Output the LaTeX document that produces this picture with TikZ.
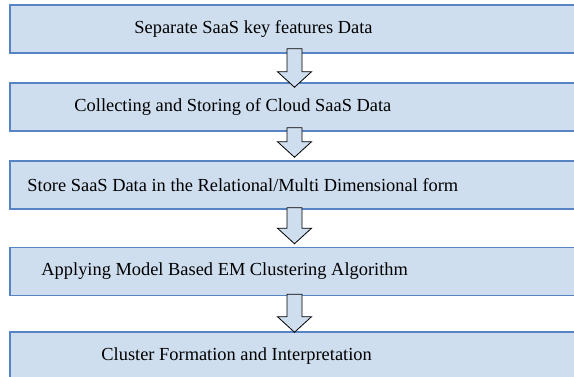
\documentclass[tikz,border=0pt]{standalone}
\usepackage{fontspec}
\setmainfont{Liberation Serif}
\usetikzlibrary{calc,positioning}
\definecolor{boxfill}{RGB}{206,222,239}
\definecolor{boxline}{RGB}{86,132,196}
\tikzset{
	stage/.style={draw=boxline, fill=boxfill, line width=1.5pt, minimum width=569pt, minimum height=48pt, inner sep=0pt},
	stagetext/.style={inner sep=0pt, font=\fontsize{18.4}{22}\selectfont},
	blockarrow/.style={draw=black, fill=boxfill, line width=0.8pt, line join=miter}
}
% hollow down arrow from (#1) to its tip at (#2)
\def\downblock(#1)(#2){\draw[blockarrow] ($(#1)+(-7.5,0)$) -- ($(#2)+(-7.5,15.5)$) -- ($(#2)+(-17,15.5)$) -- (#2) -- ($(#2)+(17,15.5)$) -- ($(#2)+(7.5,15.5)$) -- ($(#1)+(7.5,0)$) -- cycle;}

\begin{document}
\begin{tikzpicture}[x=1pt, y=1pt]
	%%%%% START %%%%%
	\useasboundingbox (0,0) rectangle (574,377);
	\clip (0,0) rectangle (574,377);
	
	\node[stage] (b1) at (294.5, 348) {};
	\node[stage] (b2) at (294.5, 270) {};
	\node[stage] (b3) at (294.5, 192) {};
	\node[stage] (b4) at (294.5, 105.5) {};
	\node[stage] (b5) at (294.5, 21) {};
	
	\node[stagetext, right=125pt of b1.west] (t1) {Separate SaaS key features Data};
	\node[stagetext, right=65pt of b2.west] (t2) {Collecting and Storing of Cloud SaaS Data};
	\node[stagetext, right=18pt of b3.west] (t3) {Store SaaS Data in the Relational/Multi Dimensional form};
	\node[stagetext, right=32pt of b4.west] (t4) {Applying Model Based EM Clustering Algorithm};
	\node[stagetext, right=92pt of b5.west] (t5) {Cluster Formation and Interpretation};
	
	% arrows between the stages (start above the lower edge, tip near the next box)
	\foreach \from/\to/\s/\t in {b1/b2/5/5, b2/b3/4/-3, b3/b4/2/-3, b4/b5/2/1}{
		\coordinate (top) at ($(\from.south)+(0,\s)$);
		\coordinate (tip) at ($(\to.north)+(0,-\t)$);
		\downblock(top)(tip)
	}
	%%%%% END %%%%%
\end{tikzpicture}
\end{document}
